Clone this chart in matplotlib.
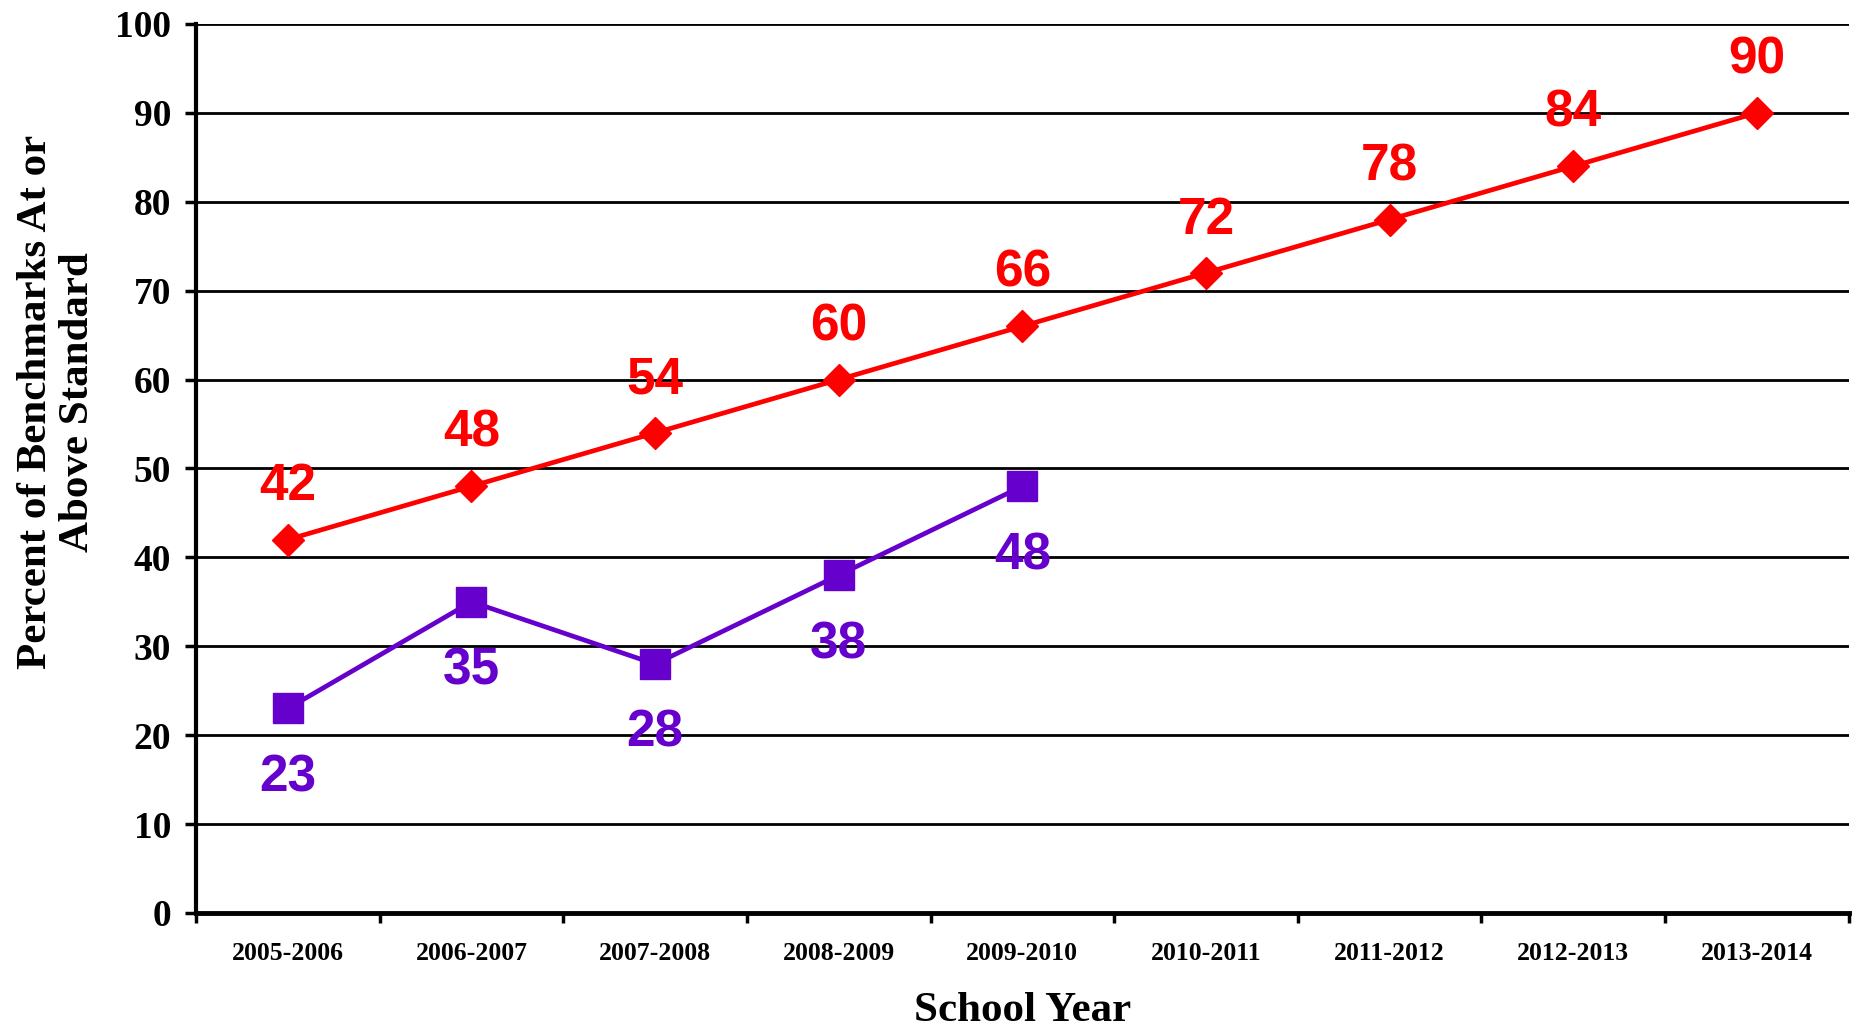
import matplotlib
matplotlib.use("Agg")
import matplotlib.pyplot as plt
from matplotlib.ticker import FixedLocator, NullFormatter

years = ["2005-2006", "2006-2007", "2007-2008", "2008-2009", "2009-2010",
         "2010-2011", "2011-2012", "2012-2013", "2013-2014"]
target = [42, 48, 54, 60, 66, 72, 78, 84, 90]
actual = [23, 35, 28, 38, 48]
yticks = [0, 10, 20, 30, 40, 50, 60, 70, 80, 90, 100]

RED = "#FF0000"
PURPLE = "#6600CC"
serif = ["Liberation Serif", "DejaVu Serif"]
sans = ["Liberation Sans", "DejaVu Sans"]

fig = plt.figure(figsize=(18.58, 10.28), dpi=100)
ax = fig.add_axes([0.1055, 0.1119, 0.8895, 0.8648])

xt = list(range(len(target)))
xa = list(range(len(actual)))

ax.plot(xt, target, color=RED, lw=3.4, marker="D", ms=16, mec=RED, mfc=RED, zorder=4)
ax.plot(xa, actual, color=PURPLE, lw=3.4, marker="s", ms=21, mec=PURPLE, mfc=PURPLE, zorder=4)

for x, v in zip(xt, target):
    ax.annotate(str(v), (x, v), xytext=(0, 38), textcoords="offset points",
                ha="center", va="center", color=RED, fontsize=37,
                fontweight="bold", family=sans, zorder=5)
for x, v in zip(xa, actual):
    ax.annotate(str(v), (x, v), xytext=(0, -50), textcoords="offset points",
                ha="center", va="center", color=PURPLE, fontsize=37,
                fontweight="bold", family=sans, zorder=5)

ax.set_xlim(-0.5, len(years) - 0.5)
ax.set_ylim(0, 100)
ax.set_yticks(yticks)
ax.yaxis.grid(True, color="black", lw=2.0)
ax.set_axisbelow(True)

ax.set_xticks(xt)
ax.set_xticklabels(years, family=serif, fontweight="bold", fontsize=18.5)
ax.tick_params(axis="x", which="major", length=0, pad=21)
ax.xaxis.set_minor_locator(FixedLocator([i + 0.5 for i in range(-1, len(years))]))
ax.xaxis.set_minor_formatter(NullFormatter())
ax.tick_params(axis="x", which="minor", length=7, width=2.5, direction="out")
ax.tick_params(axis="y", length=8, width=2.5, direction="out", pad=10)
for lab in ax.get_yticklabels():
    lab.set_family(serif)
    lab.set_fontweight("bold")
    lab.set_fontsize(27)

for s in ["top", "right"]:
    ax.spines[s].set_visible(False)
ax.spines["left"].set_linewidth(3)
ax.spines["bottom"].set_linewidth(3.5)

ax.set_xlabel("School Year", family=serif, fontweight="bold", fontsize=31, labelpad=19)
ax.set_ylabel("Percent of Benchmarks At or\nAbove Standard", family=serif,
              fontweight="bold", fontsize=31, linespacing=1.15)
ax.yaxis.set_label_coords(-0.084, 0.575)
ax.yaxis.label.set_verticalalignment("center")

fig.savefig("out.png", dpi=100)
